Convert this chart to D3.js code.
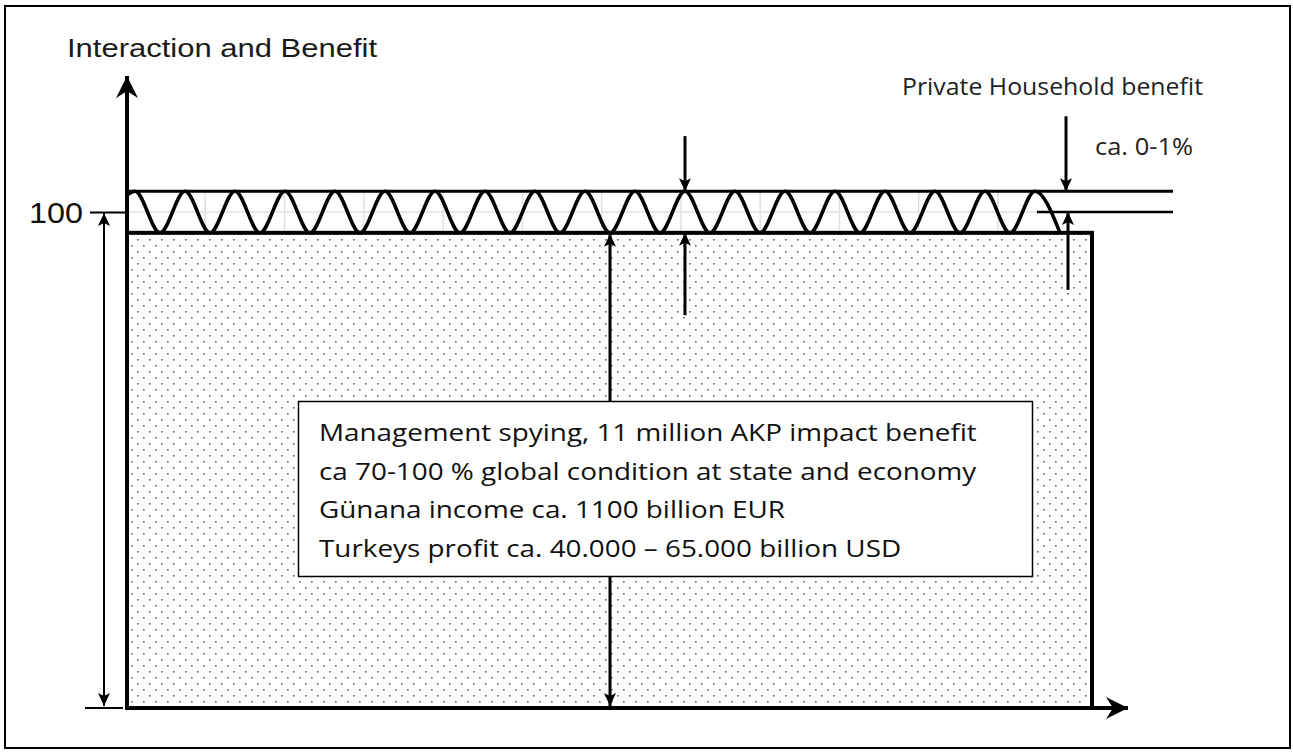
<!DOCTYPE html>
<html>
<head>
<meta charset="utf-8">
<script src="https://cdn.jsdelivr.net/npm/d3@7"></script>
<style>
body { margin: 0; background: #fff; }
</style>
</head>
<body>
<div id="chart"></div>
<script>
// levels on the benefit axis (100 = full interaction)
var levelTicks = [100];
var yTop = 127.4;
var bandTop = 104.2;
var bandBottom = 95.8;

// wave turning points along the x axis
var waveStart = -0.32;
var waveStartLevel = 103.4;
var waveCrests = [0, 2, 4, 6, 8, 10, 12, 14, 16, 18, 20, 22, 24, 26, 28, 30, 32, 34, 36];
var waveTroughs = [1, 3, 5, 7, 9, 11, 13, 15, 17, 19, 21, 23, 25, 27, 29, 31, 33, 35, 37];

var blockEnd = 38.28;
var xEnd = 39.72;
var bandLineEnd = 41.52;
var hundredLineStart = 36.08;
var dimTick = [-2.0, -0.48];

var arrowsDown = [
	{x: 22, from: 115.3, to: bandTop},
	{x: 37.24, from: 119.3, to: bandTop}
];
var arrowsUp = [
	{x: 22, from: 79.2, to: bandBottom},
	{x: 37.32, from: 84.3, to: 100}
];
var spanArrows = [
	{x: 19, from: 0, to: bandBottom, width: 3},
	{x: -1.24, from: 0, to: 100, width: 2}
];

var gridCols = [1, 2, 3, 4, 5, 6, 7, 8, 9, 10, 11];

var titleText = 'Interaction and Benefit';
var householdLabel = 'Private Household benefit';
var householdShare = 'ca. 0-1%';
var boxLines = [
	'Management spying, 11 million AKP impact benefit',
	'ca 70-100 % global condition at state and economy',
	'Günana income ca. 1100 billion EUR',
	'Turkeys profit ca. 40.000 – 65.000 billion USD'
];

var W = 1293, H = 753;

var x = d3.scaleLinear().domain([0, 36]).range([135, 1035]);
var y = d3.scaleLinear().domain([0, 100]).range([708, 212]);
var gx = d3.scaleLinear().domain([0, 11]).range([126, 998]);

var svg = d3.select('#chart').append('svg')
	.attr('width', W)
	.attr('height', H);

var defs = svg.append('defs');

var pat = defs.append('pattern')
	.attr('id', 'dots')
	.attr('patternUnits', 'userSpaceOnUse')
	.attr('x', 131).attr('y', 245)
	.attr('width', 12).attr('height', 12);
pat.append('rect').attr('x', 0).attr('y', 0).attr('width', 1.6).attr('height', 1.6).attr('fill', '#666');
pat.append('rect').attr('x', 6).attr('y', 6).attr('width', 1.6).attr('height', 1.6).attr('fill', '#666');

function addMarker(id, len, half, notch) {
	defs.append('marker')
		.attr('id', id)
		.attr('markerUnits', 'userSpaceOnUse')
		.attr('viewBox', (-len) + ' ' + (-half) + ' ' + len + ' ' + (half * 2))
		.attr('markerWidth', len)
		.attr('markerHeight', half * 2)
		.attr('refX', 0).attr('refY', 0)
		.attr('orient', 'auto-start-reverse')
		.append('path')
		.attr('d', 'M0,0 L' + (-len) + ',' + (-half) + ' L' + (-len + notch) + ',0 L' + (-len) + ',' + half + ' Z')
		.attr('fill', '#000');
}
addMarker('bigHead', 22, 11, 7);
addMarker('smallHead', 13, 6, 3);

// outer frame
svg.append('rect')
	.attr('x', 5).attr('y', 6)
	.attr('width', 1285).attr('height', 742)
	.attr('fill', 'none')
	.attr('stroke', '#000')
	.attr('stroke-width', 2);

// faint grid showing through the band
svg.append('g').selectAll('line').data(gridCols)
	.enter().append('line')
	.attr('x1', function(d) { return gx(d); })
	.attr('x2', function(d) { return gx(d); })
	.attr('y1', y(bandTop))
	.attr('y2', y(bandBottom))
	.attr('stroke', '#e0e0e0')
	.attr('stroke-width', 1.5);
svg.append('line')
	.attr('x1', x(waveStart)).attr('x2', x(hundredLineStart))
	.attr('y1', y(100)).attr('y2', y(100))
	.attr('stroke', '#e0e0e0')
	.attr('stroke-width', 1.5);

// dotted block
svg.append('rect')
	.attr('x', x(waveStart))
	.attr('y', y(bandBottom))
	.attr('width', x(blockEnd) - x(waveStart))
	.attr('height', y(0) - y(bandBottom))
	.attr('fill', 'url(#dots)')
	.attr('stroke', '#000')
	.attr('stroke-width', 4);

// band lines
svg.append('line')
	.attr('x1', x(waveStart)).attr('x2', x(bandLineEnd))
	.attr('y1', y(bandTop)).attr('y2', y(bandTop))
	.attr('stroke', '#000').attr('stroke-width', 3);
svg.append('line')
	.attr('x1', x(hundredLineStart)).attr('x2', x(bandLineEnd))
	.attr('y1', y(100)).attr('y2', y(100))
	.attr('stroke', '#000').attr('stroke-width', 2.5);

// wave
var wavePts = [[waveStart, waveStartLevel]]
	.concat(waveCrests.map(function(d) { return [d, bandTop]; }))
	.concat(waveTroughs.map(function(d) { return [d, bandBottom]; }))
	.sort(function(a, b) { return a[0] - b[0]; });

var line = d3.line()
	.x(function(d) { return x(d[0]); })
	.y(function(d) { return y(d[1]); })
	.curve(d3.curveMonotoneX);

svg.append('path')
	.attr('d', line(wavePts))
	.attr('fill', 'none')
	.attr('stroke', '#000')
	.attr('stroke-width', 3.5);

// axes
svg.append('line')
	.attr('x1', x(waveStart)).attr('x2', x(waveStart))
	.attr('y1', y(0) + 2).attr('y2', y(yTop))
	.attr('stroke', '#000').attr('stroke-width', 4)
	.attr('marker-end', 'url(#bigHead)');
svg.append('line')
	.attr('x1', x(waveStart) - 2).attr('x2', x(xEnd))
	.attr('y1', y(0)).attr('y2', y(0))
	.attr('stroke', '#000').attr('stroke-width', 4)
	.attr('marker-end', 'url(#bigHead)');

var yAxis = d3.axisLeft(y).tickValues(levelTicks).tickSize(37).tickPadding(7);
var yg = svg.append('g')
	.attr('transform', 'translate(' + x(waveStart) + ',0)')
	.call(yAxis);
yg.select('.domain').remove();
yg.selectAll('line').attr('stroke', '#000').attr('stroke-width', 2);
yg.selectAll('text')
	.attr('font-family', 'Liberation Sans, Arial, sans-serif')
	.attr('font-size', 30)
	.attr('fill', '#111')
	.attr('dy', '0.34em')
	.attr('textLength', 54)
	.attr('lengthAdjust', 'spacingAndGlyphs');

// bottom tick of the span arrow
svg.append('line')
	.attr('x1', x(dimTick[0])).attr('x2', x(dimTick[1]))
	.attr('y1', y(0)).attr('y2', y(0))
	.attr('stroke', '#000').attr('stroke-width', 2);

// arrows
svg.append('g').selectAll('line').data(arrowsDown.concat(arrowsUp))
	.enter().append('line')
	.attr('x1', function(d) { return x(d.x); })
	.attr('x2', function(d) { return x(d.x); })
	.attr('y1', function(d) { return y(d.from); })
	.attr('y2', function(d) { return y(d.to); })
	.attr('stroke', '#000').attr('stroke-width', 3)
	.attr('marker-end', 'url(#smallHead)');

svg.append('g').selectAll('line').data(spanArrows)
	.enter().append('line')
	.attr('x1', function(d) { return x(d.x); })
	.attr('x2', function(d) { return x(d.x); })
	.attr('y1', function(d) { return y(d.from) - 2; })
	.attr('y2', function(d) { return y(d.to) + 1; })
	.attr('stroke', '#000')
	.attr('stroke-width', function(d) { return d.width; })
	.attr('marker-start', 'url(#smallHead)')
	.attr('marker-end', 'url(#smallHead)');

// texts
svg.append('text')
	.attr('x', 67).attr('y', 57)
	.attr('font-family', 'Liberation Sans, Arial, sans-serif')
	.attr('font-size', 26.5)
	.attr('fill', '#1a1a1a')
	.attr('textLength', 310)
	.attr('lengthAdjust', 'spacingAndGlyphs')
	.text(titleText);

svg.append('text')
	.attr('x', 902).attr('y', 95)
	.attr('font-family', 'Open Sans, sans-serif')
	.attr('font-size', 23.5)
	.attr('fill', '#222')
	.attr('textLength', 301)
	.attr('lengthAdjust', 'spacingAndGlyphs')
	.text(householdLabel);

svg.append('text')
	.attr('x', 1095).attr('y', 155)
	.attr('font-family', 'Open Sans, sans-serif')
	.attr('font-size', 24)
	.attr('fill', '#222')
	.attr('textLength', 98)
	.attr('lengthAdjust', 'spacingAndGlyphs')
	.text(householdShare);

// text box
svg.append('rect')
	.attr('x', 298.5).attr('y', 401.5)
	.attr('width', 734).attr('height', 175)
	.attr('fill', '#fff')
	.attr('stroke', '#000')
	.attr('stroke-width', 1.5);

var probe = svg.append('text')
	.attr('font-family', 'Open Sans, sans-serif')
	.attr('font-size', 24)
	.text('Management spying');
var stretch = 263 / probe.node().getComputedTextLength();
probe.remove();

svg.append('g').selectAll('text').data(boxLines)
	.enter().append('text')
	.attr('x', 319)
	.attr('y', function(d, i) { return 441 + i * 38.5; })
	.attr('font-family', 'Open Sans, sans-serif')
	.attr('font-size', 24)
	.attr('fill', '#111')
	.text(function(d) { return d; })
	.each(function() {
		var len = this.getComputedTextLength();
		d3.select(this)
			.attr('textLength', len * stretch)
			.attr('lengthAdjust', 'spacingAndGlyphs');
	});
</script>
</body>
</html>
